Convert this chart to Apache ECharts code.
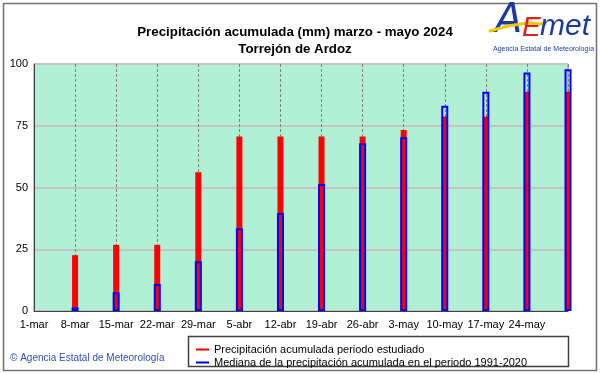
<!DOCTYPE html>
<html><head><meta charset="utf-8">
<script src="https://cdn.jsdelivr.net/npm/echarts@6/dist/echarts.min.js"></script>
<style>html,body{margin:0;padding:0;background:#fff}#c{width:601px;height:374px}</style>
</head><body><div id="c"></div>
<script>
const categories = ['1-mar','8-mar','15-mar','22-mar','29-mar','5-abr','12-abr','19-abr','26-abr','3-may','10-may','17-may','24-may','31-may'];
const tickLabels = ['1-mar','8-mar','15-mar','22-mar','29-mar','5-abr','12-abr','19-abr','26-abr','3-may','10-may','17-may','24-may',''];
const precip2024 = [null, 22.6, 26.8, 26.8, 56.2, 70.6, 70.6, 70.6, 70.6, 73.3, 78.7, 78.7, 88.8, 88.8];
const median19912020 = [null, 1.5, 7.6, 10.9, 20.1, 33.5, 39.7, 51.4, 67.9, 70.3, 83.1, 88.8, 96.6, 97.9];
const yTicks = [0, 25, 50, 75, 100];
const titleLines = ['Precipitación acumulada (mm) marzo - mayo 2024', 'Torrejón de Ardoz'];
const legendNames = ['Precipitación acumulada periodo estudiado', 'Mediana de la precipitación acumulada en el periodo 1991-2020'];

const chart = echarts.init(document.getElementById('c'), null, {renderer: 'canvas'});
const font = 'Liberation Sans, Arial, sans-serif';
chart.setOption({
  animation: false,
  backgroundColor: '#fff',
  title: {
    text: titleLines.join('\n'),
    left: 290, top: 19, textAlign: 'center',
    textStyle: {fontFamily: font, fontSize: 13.3, fontWeight: 'bold', color: '#000', lineHeight: 17}
  },
  grid: {left: 34, right: 33, top: 64, bottom: 63, show: true, backgroundColor: '#b2f0d6', borderColor: '#808080', borderWidth: 1},
  xAxis: [{
    type: 'category', data: categories, boundaryGap: false,
    axisLine: {lineStyle: {color: '#404040', width: 1}},
    axisTick: {show: false},
    axisLabel: {fontFamily: font, fontSize: 11, color: '#000', margin: 8, interval: 0,
      formatter: (v, i) => tickLabels[i]},
    splitLine: {show: true, interval: 0, lineStyle: {color: '#808080', type: [3, 2], width: 1}}
  }, {
    type: 'category', data: categories, boundaryGap: false, show: false, position: 'bottom'
  }],
  yAxis: {
    type: 'value', min: 0, max: 100, interval: 25,
    axisLine: {show: true, lineStyle: {color: '#404040'}},
    axisTick: {show: false},
    axisLabel: {fontFamily: font, fontSize: 11, color: '#000', margin: 6,
      formatter: v => yTicks.includes(v) ? String(v) : ''},
    splitLine: {lineStyle: {color: '#c4c4c4', width: 2}}
  },
  legend: {
    orient: 'vertical', left: 191, top: 339, itemGap: 2,
    itemWidth: 13, itemHeight: 2, icon: 'rect',
    textStyle: {fontFamily: font, fontSize: 11, color: '#000', padding: [0, 0, 0, 0]},
    data: [{name: legendNames[0], itemStyle: {color: '#ff0000', borderWidth: 0}},
           {name: legendNames[1], itemStyle: {color: '#0000ff', borderWidth: 0}}]
  },
  graphic: [
    {type: 'rect', shape: {x: 3.5, y: 3.5, width: 593, height: 367}, style: {fill: 'none', stroke: '#707070', lineWidth: 1.5}, z: -1},
    {type: 'rect', shape: {x: 188.5, y: 336.5, width: 380, height: 30}, style: {fill: '#fff', stroke: '#404040', lineWidth: 1.5}, z: -1},
    {type: 'text', left: 10, top: 353, style: {text: '© Agencia Estatal de Meteorología', fill: '#3050b0', font: '10px Liberation Sans, Arial, sans-serif'}},
    {type: 'text', left: 495, top: 2, style: {text: 'A', fill: '#1a3aa0', font: 'italic 200 40px DejaVu Sans, sans-serif'}},
    {type: 'polyline', shape: {points: [[490, 31], [508, 26], [528, 23], [545, 24]]}, style: {stroke: '#f0c800', lineWidth: 3, fill: 'none', lineCap: 'round'}},
    {type: 'text', left: 522, top: 14, style: {text: 'E', fill: '#e02020', font: 'italic 28px Liberation Sans, sans-serif'}},
    {type: 'text', left: 540, top: 12, style: {text: 'met', fill: '#1a3aa0', font: 'italic 30px Liberation Sans, sans-serif'}},
    {type: 'text', left: 493, top: 46, style: {text: 'Agencia Estatal de Meteorología', fill: '#2040a0', font: '7px Liberation Sans, Arial, sans-serif'}}
  ],
  series: [
    {name: legendNames[0], type: 'bar', data: precip2024, barWidth: 6, xAxisIndex: 0,
     itemStyle: {color: '#ff0000'}, z: 2},
    {name: legendNames[1], type: 'bar', data: median19912020, barWidth: 7, xAxisIndex: 1,
     itemStyle: {color: 'rgba(0,0,0,0)', borderColor: '#0000ff', borderWidth: 2}, z: 3}
  ]
});
</script></body></html>
